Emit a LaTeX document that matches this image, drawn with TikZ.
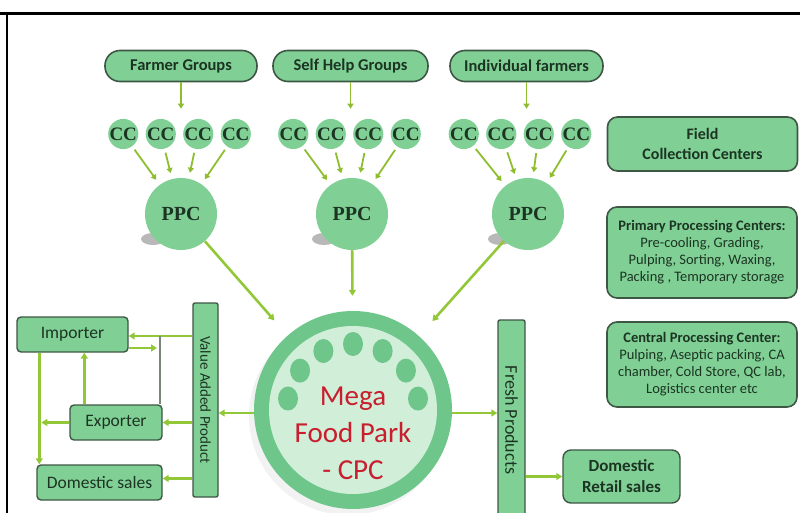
\documentclass[tikz,border=0pt]{standalone}
\usepackage{fontspec}
\setmainfont{Carlito}
\newfontfamily\serifcc{Liberation Serif}
\usetikzlibrary{positioning,calc,arrows.meta}
\definecolor{boxgreen}{RGB}{128,208,150}
\definecolor{edgegrey}{RGB}{62,86,68}
\definecolor{flowgreen}{RGB}{146,200,56}
\definecolor{inkgreen}{RGB}{28,52,34}
\definecolor{ringgreen}{RGB}{110,198,138}
\definecolor{coregreen}{RGB}{208,238,216}
\definecolor{megared}{RGB}{200,30,46}
\tikzset{
	pill/.style={draw=edgegrey, line width=1.6pt, fill=boxgreen, rounded corners=15pt, minimum width=152pt, minimum height=31pt, font=\fontsize{16.5}{19}\selectfont\bfseries, text=inkgreen},
	cc/.style={circle, fill=boxgreen, minimum size=30pt, inner sep=0pt, font=\serifcc\bfseries\fontsize{19}{19}\selectfont, text=inkgreen},
	ppc/.style={circle, fill=boxgreen, minimum size=72pt, inner sep=0pt, font=\serifcc\bfseries\fontsize{20}{20}\selectfont, text=inkgreen},
	infobox/.style={draw=edgegrey, line width=1.6pt, fill=boxgreen, rounded corners=10pt, minimum width=190pt, inner sep=2pt, align=center, text=inkgreen},
	salebox/.style={draw=edgegrey, line width=1.4pt, fill=boxgreen, rounded corners=4pt, minimum height=35pt, font=\fontsize{17.5}{20}\selectfont, text=inkgreen},
	bar/.style={draw=edgegrey, line width=1.4pt, fill=boxgreen, rounded corners=2pt, rotate=-90, inner sep=2pt, font=\fontsize{15}{18}\selectfont, text=inkgreen},
	flow/.style={draw=flowgreen, line width=2.6pt, -{Triangle[length=6pt,width=7pt]}},
	feed/.style={draw=flowgreen!85!olive, line width=1.8pt, -{Triangle[length=5pt,width=6pt]}},
}

\begin{document}
\begin{tikzpicture}[x=1pt, y=-1pt]
	\useasboundingbox (0,0) rectangle (800,513);
	\draw[line width=3pt] (0,14) -- (800,14);
	\draw[line width=2pt] (7,14) -- (7,513);

	% shadows
	\foreach \px in {181,352,528}
		\fill[black!28] (\px-28,239) ellipse (12 and 6);
	\fill[black!5] (348,416) circle (99);

	% sources
	\node[pill] (fg) at (181,66) {Farmer Groups};
	\node[pill, minimum width=155pt] (shg) at (350.5,66) {Self Help Groups};
	\node[pill, minimum width=153pt] (ind) at (526.5,66) {Individual farmers};

	% collection centers
	\foreach \g/\gx in {1/179.5, 2/349.5, 3/520}
		\foreach \i in {1,...,4}
			\node[cc] (cc\g\i) at ({\gx+(\i-2.5)*37.5},134) {CC};

	\node[ppc] (ppc1) at (181,214) {PPC};
	\node[ppc] (ppc2) at (352,214) {PPC};
	\node[ppc] (ppc3) at (528,214) {PPC};

	% mega food park
	\node[circle, fill=ringgreen, minimum size=198pt, inner sep=0pt] (mega) at (353,410) {};
	\fill[coregreen] (mega.center) circle (84);
	\foreach \k in {0,...,6}
		\fill[ringgreen] ({353+66*cos(10+\k*26.667)},{410-66*sin(10+\k*26.667)}) ellipse (10 and 12);
	\node[align=center, text=megared, font=\fontsize{29}{37}\selectfont] (megatext) at (353,433) {Mega\\Food Park\\- CPC};

	% notes
	\node[infobox, minimum height=54pt, font=\fontsize{16}{20}\selectfont\bfseries] (fcc) at (702.5,144) {Field\\Collection Centers};
	\node[infobox, minimum height=91pt, font=\fontsize{14.5}{17}\selectfont] (ppcnote) at (702,252.5) {\textbf{Primary Processing Centers:}\\Pre-cooling, Grading,\\Pulping, Sorting, Waxing,\\Packing , Temporary storage};
	\node[infobox, minimum height=85pt, font=\fontsize{14.5}{17}\selectfont] (cpcnote) at (702,364.5) {\textbf{Central Processing Center:}\\Pulping, Aseptic packing, CA\\chamber, Cold Store, QC lab,\\Logistics center etc};

	% outlets
	\node[bar, minimum width=194pt, minimum height=25pt] (vap) at (205.5,400) {Value Added Product};
	\node[bar, minimum width=200pt, minimum height=27pt, font=\fontsize{18}{20}\selectfont] (fresh) at (511.5,420) {Fresh Products};
	\node[salebox, minimum width=111pt] (imp) at (72.5,334.5) {Importer};
	\node[salebox, minimum width=92pt] (exp) at (116,422.5) {Exporter};
	\node[salebox, minimum width=125pt] (dom) at (99.5,482.5) {Domestic sales};
	\node[salebox, rounded corners=8pt, minimum width=117pt, minimum height=53pt, align=center, font=\fontsize{17}{21}\selectfont\bfseries] (retail) at (621.5,476.5) {Domestic\\Retail sales};

	\coordinate (split) at (160,336);
	\coordinate (rejoin) at (157,348);
	\coordinate (drop) at ([xshift=23pt]imp.south west);
	\coordinate (domin) at ([yshift=4pt]dom.east);

	\draw[feed, shorten >=10pt] (fg) -- (fg |- cc11.north);
	\draw[feed, shorten >=10pt] (shg) -- (shg |- cc21.north);
	\draw[feed, shorten >=10pt] (ind) -- (ind |- cc31.north);
	\foreach \g in {1,2,3}
		\foreach \i in {1,...,4}
			\draw[feed, shorten <=4pt, shorten >=6pt] (cc\g\i) -- (ppc\g);

	\draw[flow, shorten >=20pt] (ppc1) -- (mega);
	\draw[flow, shorten >=15pt] (ppc2) -- (mega);
	\draw[flow, shorten >=20pt] (ppc3) -- (mega);

	\draw[flow] ([yshift=-3pt]mega.west) -- ([yshift=-3pt]mega.west -| vap.north);
	\draw[flow] ([yshift=-3pt]mega.east) -- ([yshift=-3pt]mega.east -| fresh.south);
	\draw[flow] (fresh.north |- retail) -- (retail);

	\draw[flow] (vap.south |- split) -- (imp.east |- split);
	\draw[draw=edgegrey!70, line width=1.4pt] (split) -- (split |- exp.north);
	\draw[flow] (imp.east |- rejoin) -- (rejoin);
	\draw[flow] ([xshift=15pt]exp.north west) -- ([xshift=15pt]exp.north west |- imp.south);
	\draw[flow] (vap.south |- exp) -- (exp.east);
	\draw[flow, shorten >=2pt] (exp.west) -- (exp.west -| drop);
	\draw[flow] (drop) -- (drop |- dom.north);
	\draw[flow] (vap.south |- domin) -- (domin);
\end{tikzpicture}
\end{document}
